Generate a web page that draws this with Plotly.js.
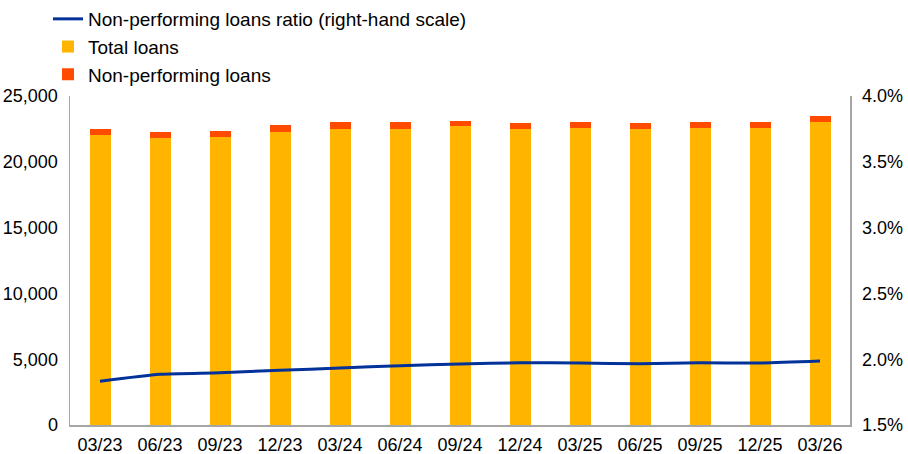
<!DOCTYPE html>
<html>
<head>
<meta charset="utf-8">
<script src="https://cdn.plot.ly/plotly-3.0.1.min.js"></script>
<style>html,body{margin:0;padding:0;background:#fff;}#chart{width:908px;height:454px;}</style>
</head>
<body>
<div id="chart"></div>
<script>
const categories = ["03/23","06/23","09/23","12/23","03/24","06/24","09/24","12/24","03/25","06/25","09/25","12/25","03/26"];
const totalLoans = [22040, 21830, 21880, 22290, 22490, 22490, 22720, 22490, 22570, 22490, 22570, 22570, 23020];
const nplLoans = [440, 420, 450, 480, 500, 500, 400, 470, 450, 430, 430, 450, 450];
const nplRatio = [1.832, 1.885, 1.897, 1.916, 1.933, 1.951, 1.963, 1.973, 1.971, 1.966, 1.973, 1.971, 1.986];

const axisFont = {family: "Liberation Sans, Arial, sans-serif", size: 18, color: "#000"};
const legendFont = {family: "Liberation Sans, Arial, sans-serif", size: 19, color: "#000"};

const traces = [
  {type: "scatter", mode: "lines", name: "Non-performing loans ratio (right-hand scale)",
   x: categories, y: nplRatio, yaxis: "y2",
   line: {color: "#003299", width: 3, shape: "spline", smoothing: 0.6}},
  {type: "bar", name: "Total loans", x: categories, y: totalLoans,
   marker: {color: "#FFB400", line: {width: 0}}, width: 0.35},
  {type: "bar", name: "Non-performing loans", x: categories, y: nplLoans,
   marker: {color: "#FF4B00", line: {width: 0}}, width: 0.35}
];

const layout = {
  width: 908, height: 454,
  margin: {l: 70, r: 58, t: 96, b: 29, pad: 0, autoexpand: false},
  paper_bgcolor: "#fff", plot_bgcolor: "#fff",
  font: axisFont,
  barmode: "stack",
  showlegend: true,
  legend: {xref: "container", yref: "container", x: 48/908, y: 1,
           xanchor: "left", yanchor: "top", traceorder: "normal",
           font: legendFont, tracegroupgap: 0, itemwidth: 30, bgcolor: "rgba(0,0,0,0)"},
  xaxis: {type: "category", showline: true, linecolor: "#a6a6a6", linewidth: 1.5,
          showgrid: false, zeroline: false, ticks: "", tickfont: axisFont, tickangle: 0,
          ticklabelstandoff: 3, range: [-0.5, 12.5], automargin: false},
  yaxis: {range: [0, 25000], dtick: 5000, tickformat: ",d", showline: true,
          linecolor: "#a6a6a6", linewidth: 1.5, showgrid: false, zeroline: false,
          ticks: "", tickfont: axisFont, ticklabelstandoff: 7, automargin: false},
  yaxis2: {overlaying: "y", side: "right", range: [1.5, 4.0], dtick: 0.5,
           tickformat: ".1f", ticksuffix: "%", showline: true, linecolor: "#a6a6a6",
           linewidth: 1.5, showgrid: false, zeroline: false, ticks: "",
           tickfont: axisFont, ticklabelstandoff: 7, automargin: false}
};

Plotly.newPlot("chart", traces, layout, {displayModeBar: false, staticPlot: true});
</script>
</body>
</html>
